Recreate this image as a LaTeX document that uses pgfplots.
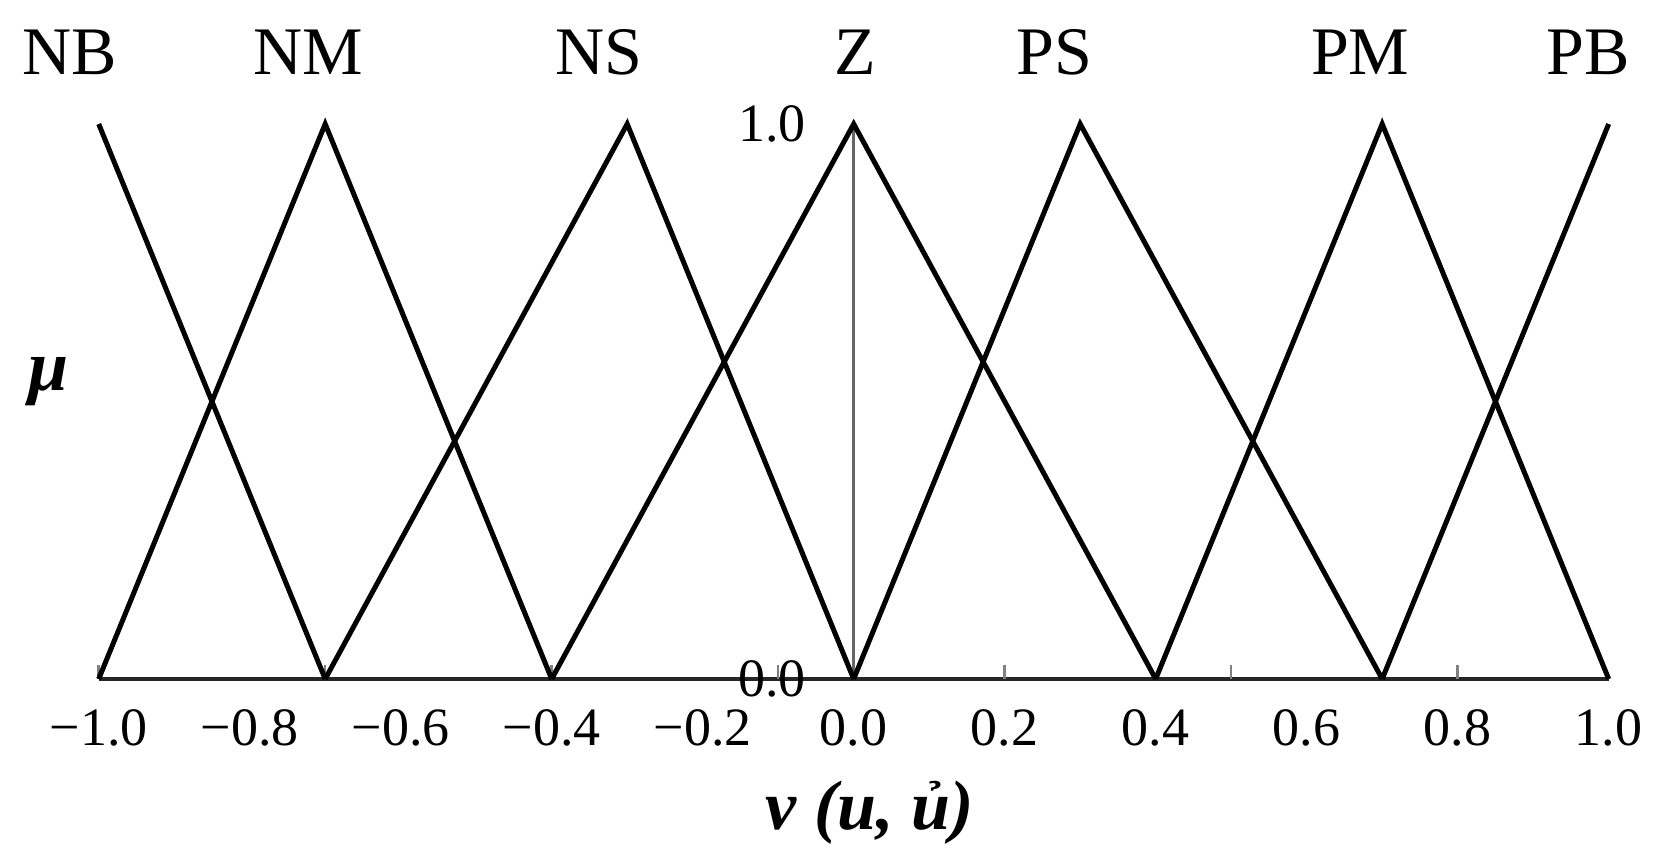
\documentclass[border=0pt]{standalone}
\usepackage{fontspec}
\setmainfont{Liberation Serif}
\usepackage{pgfplots}
\pgfplotsset{compat=1.18}
\begin{document}
\begin{tikzpicture}
\path[use as bounding box] (-24.675pt,-46.5pt) rectangle (391.325pt,169.75pt);
\begin{axis}[
  at={(0pt,0pt)}, anchor=south west,
  scale only axis, width=377.5pt, height=138.75pt,
  xmin=-1, xmax=1, ymin=0, ymax=1,
  clip=false,
  axis x line=bottom, axis y line=middle,
  hide obscured x ticks=false, hide obscured y ticks=false,
  x axis line style={-, draw=black!85, line width=0.9pt},
  y axis line style={-, draw=black!60, line width=0.6pt},
  tick align=inside,
  major tick length=3.4pt,
  xtick={-1,-0.8,-0.6,-0.4,-0.2,0,0.2,0.4,0.6,0.8,1},
  xticklabels={−1.0,−0.8,−0.6,−0.4,−0.2,0.0,0.2,0.4,0.6,0.8,1.0},
  xtick style={draw=none},
  ytick style={draw=none},
  extra x ticks={-1,-0.7,-0.4,-0.1,0.2,0.5,0.8},
  extra x tick labels={},
  extra x tick style={xtick style={draw=black!50, line width=0.6pt}},
  ytick={0,1}, yticklabels={0.0,1.0},
  xticklabel style={font=\fontsize{13.5}{16}\selectfont, yshift=-4pt},
  yticklabel style={font=\fontsize{13.5}{16}\selectfont, anchor=east, xshift=-8.4pt},
  mf/.style={black, solid, line width=1.25pt, mark=none},
]
\addplot[mf] coordinates {(-1,1) (-0.7,0)};
\addplot[mf] coordinates {(-1,0) (-0.7,1) (-0.4,0)};
\addplot[mf] coordinates {(-0.7,0) (-0.3,1) (0,0)};
\addplot[mf] coordinates {(-0.4,0) (0,1) (0.4,0)};
\addplot[mf] coordinates {(0,0) (0.3,1) (0.7,0)};
\addplot[mf] coordinates {(0.4,0) (0.7,1) (1,0)};
\addplot[mf] coordinates {(0.7,0) (1,1)};
\begin{scope}[every node/.style={font=\fontsize{17}{20}\selectfont, anchor=base, inner sep=0pt}]
\node at (axis cs:-1.038,1.0896) {NB};
\node at (axis cs:-0.723,1.0896) {NM};
\node at (axis cs:-0.337,1.0896) {NS};
\node at (axis cs:0.002,1.0896) {Z};
\node at (axis cs:0.266,1.0896) {PS};
\node at (axis cs:0.671,1.0896) {PM};
\node at (axis cs:0.973,1.0896) {PB};
\end{scope}
\node[font=\fontsize{18}{20}\selectfont\bfseries\itshape, inner sep=0pt] at (axis cs:-1.067,0.535) {μ};
\node[font=\fontsize{17.5}{20}\selectfont\bfseries\itshape, inner sep=0pt] at (axis cs:0.0216,-0.24) {v (u, ủ)};
\end{axis}
\end{tikzpicture}
\end{document}
